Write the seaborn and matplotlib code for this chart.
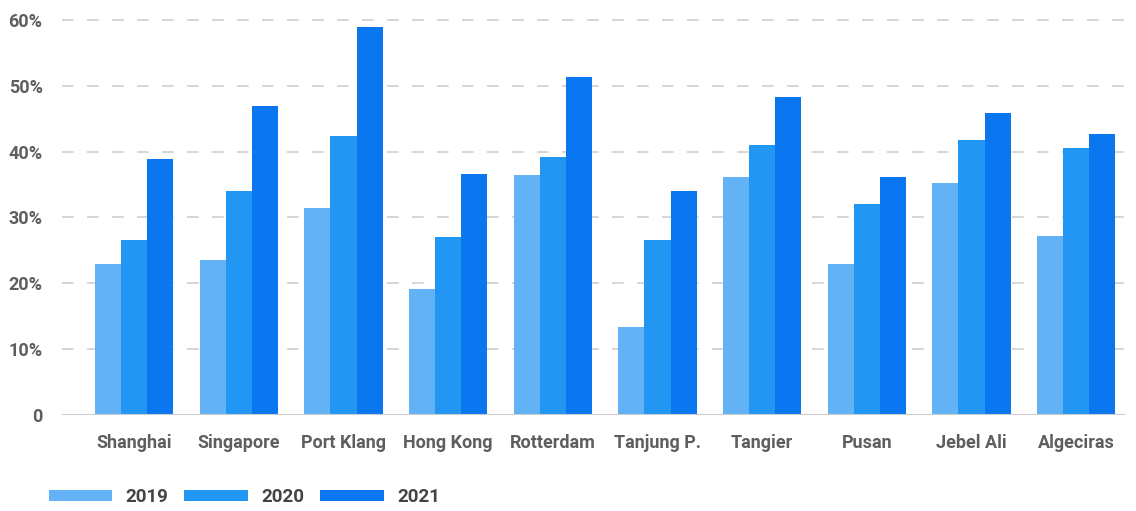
import matplotlib
matplotlib.use("Agg")
import matplotlib.pyplot as plt
import seaborn as sns
import pandas as pd
from matplotlib.ticker import FuncFormatter

ports = ["Shanghai", "Singapore", "Port Klang", "Hong Kong", "Rotterdam",
         "Tanjung P.", "Tangier", "Pusan", "Jebel Ali", "Algeciras"]
years = ["2019", "2020", "2021"]
v2019 = [23.0, 23.6, 31.5, 19.1, 36.4, 13.3, 36.2, 23.0, 35.3, 27.2]
v2020 = [26.6, 34.0, 42.4, 27.0, 39.2, 26.6, 41.0, 32.1, 41.8, 40.6]
v2021 = [38.9, 46.9, 58.9, 36.6, 51.3, 34.0, 48.3, 36.2, 45.9, 42.6]
colors = ["#64b2f6", "#2196f3", "#0a76f0"]

rows = []
for y, vals in zip(years, [v2019, v2020, v2021]):
    for p, v in zip(ports, vals):
        rows.append({"port": p, "year": y, "value": v})
df = pd.DataFrame(rows)

sns.set_theme(style="white")
plt.rcParams["font.family"] = ["Roboto", "DejaVu Sans"]

fig = plt.figure(figsize=(11.36, 5.11), dpi=100)
ax = fig.add_axes([0.0546, 0.188, 0.936, 0.773])

sns.barplot(data=df, x="port", y="value", hue="year", hue_order=years,
            palette=colors, width=0.75, gap=0, saturation=1,
            edgecolor="none", linewidth=0, ax=ax, zorder=3, legend=True)

ax.set_ylim(0, 60)
ax.set_xlim(-0.69, 9.47)
ax.set_yticks([0, 10, 20, 30, 40, 50, 60])
ax.yaxis.set_major_formatter(FuncFormatter(lambda v, _: "0" if v == 0 else f"{int(v)}%"))
for yv in [10, 20, 30, 40, 50, 60]:
    ax.axhline(yv, color="#cfcfcf", lw=1.2, dashes=(7, 8), zorder=1, clip_on=False)
ax.axhline(0, color="#cccccc", lw=1.5, zorder=4)

for s in ax.spines.values():
    s.set_visible(False)
ax.set_xlabel("")
ax.set_ylabel("")
ax.tick_params(axis="both", length=0, labelsize=13)
ax.tick_params(axis="y", pad=14)
ax.tick_params(axis="x", pad=14)
for lab in ax.get_xticklabels() + ax.get_yticklabels():
    lab.set_fontweight("bold")
    lab.set_color("#5e5e5e")

handles, labels = ax.get_legend_handles_labels()
ax.get_legend().remove()
leg = fig.legend(handles, labels, loc="center left", bbox_to_anchor=(0.028, 0.027),
                 ncol=3, frameon=False, handlelength=3.4, handleheight=0.45,
                 columnspacing=0.85, handletextpad=0.7, fontsize=13.5)
for t in leg.get_texts():
    t.set_color("#444444")
    t.set_fontweight("bold")

fig.savefig("out.png", dpi=100)
